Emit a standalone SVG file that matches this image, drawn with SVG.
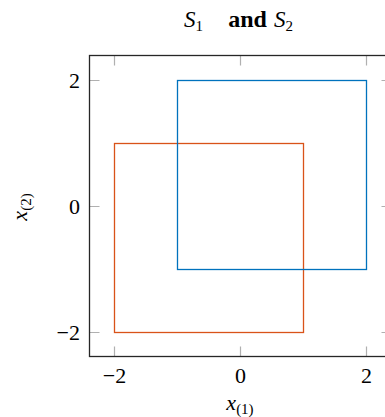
<svg xmlns="http://www.w3.org/2000/svg" width="385" height="417" viewBox="0 0 385 417">
<style>
text{font-family:"Liberation Serif","DejaVu Serif",serif;fill:#000}
.tl{font-size:22px}
.tick{stroke:#b0b0b0;stroke-width:1.2;fill:none}
.axis{stroke:#262626;stroke-width:1.3;fill:none}
.sq{fill:none;stroke-width:1.3}
.ts{font-size:23px;font-style:italic}
.sub{font-size:15px;font-style:normal}
</style>
<rect width="385" height="417" fill="#fff"/>
<g id="title">
<text x="184" y="27" class="ts">S<tspan class="sub" dy="4">1</tspan></text>
<text x="247.5" y="27" font-size="24" font-weight="bold" text-anchor="middle">and</text>
<text x="274" y="27" class="ts">S<tspan class="sub" dy="4">2</tspan></text>
</g>
<g id="ticks">
<path class="tick" d="M114.5,55.5V65.5M240.5,55.5V65.5M366.5,55.5V65.5M114.5,356.5V346.5M240.5,356.5V346.5M366.5,356.5V346.5M89.5,80.5H99.5M89.5,206.5H99.5M89.5,332.5H99.5M391.5,80.5H381.5M391.5,206.5H381.5M391.5,332.5H381.5"/>
</g>
<g id="series-orange"><rect class="sq" x="114.5" y="143.5" width="189" height="189" stroke="#D95319"/></g>
<g id="series-blue"><rect class="sq" x="177.5" y="80.5" width="189" height="189" stroke="#0072BD"/></g>
<g id="axes"><rect class="axis" x="89.5" y="55.5" width="302" height="301"/></g>
<g id="ytick-labels">
<text x="80" y="88" text-anchor="end" class="tl">2</text>
<text x="80" y="214" text-anchor="end" class="tl">0</text>
<text x="80" y="340" text-anchor="end" class="tl">−2</text>
</g>
<g id="xtick-labels">
<text x="114.5" y="383" text-anchor="middle" class="tl">−2</text>
<text x="240.5" y="383" text-anchor="middle" class="tl">0</text>
<text x="366.5" y="383" text-anchor="middle" class="tl">2</text>
</g>
<g id="xlabel"><text x="240" y="410" text-anchor="middle" font-size="22"><tspan font-style="italic">x</tspan><tspan font-size="15" dy="4">(1)</tspan></text></g>
<g id="ylabel"><text transform="translate(27,207) rotate(-90)" text-anchor="middle" font-size="22"><tspan font-style="italic">x</tspan><tspan font-size="15" dy="4">(2)</tspan></text></g>
</svg>
